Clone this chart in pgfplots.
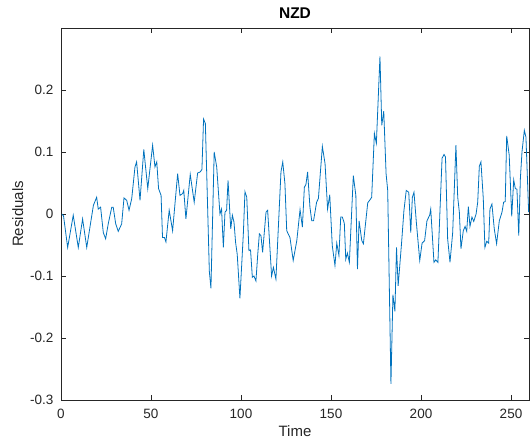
\documentclass[border=0pt]{standalone}
\usepackage{pgfplots}
\pgfplotsset{compat=1.18}
\usepackage{fontspec}
\setmainfont{Liberation Sans}
\definecolor{mblue}{rgb}{0,0.447,0.741}
\definecolor{mgray}{rgb}{0.15,0.15,0.15}
\begin{document}
\begin{tikzpicture}
\begin{axis}[
 scale only axis, width=468pt, height=372pt,
 xmin=0,xmax=260,ymin=-0.3,ymax=0.3,
 xtick={0,50,100,150,200,250}, xticklabels={0,50,100,150,200,250},
 ytick={-0.3,-0.2,-0.1,0,0.1,0.2}, yticklabels={-0.3,-0.2,-0.1,0,0.1,0.2},
 axis line style={mgray, line width=0.7pt},
 major tick style={mgray, line width=0.7pt},
 major tick length=5pt,
 tick pos=both, tick align=inside,
 tick label style={font=\fontsize{13.5}{16}\selectfont, text=mgray},
 xticklabel style={yshift=-6pt},
 yticklabel style={xshift=-4pt},
 xlabel={Time}, ylabel={Residuals},
 label style={font=\fontsize{15}{18}\selectfont, text=mgray},
 title={NZD}, title style={font=\bfseries\fontsize{15.5}{18}\selectfont, text=black},
]
\addplot[mblue, line width=0.8pt] coordinates {
(0.5,0.000) (1.4,-0.003) (3.7,-0.054) (6.8,-0.002) (9.6,-0.054) (12.0,-0.008)
(14.3,-0.054) (18.0,0.014) (19.8,0.027) (20.7,0.008) (22.0,0.011) (23.5,-0.030)
(24.8,-0.040) (26.3,-0.015) (28.2,0.011) (29.0,0.011) (30.4,-0.016) (31.8,-0.028)
(33.7,-0.016) (35.0,0.026) (36.5,0.022) (37.8,0.006) (39.3,0.025) (41.1,0.076)
(42.0,0.084) (43.9,0.022) (46.0,0.104) (48.2,0.041) (50.9,0.111) (52.2,0.076)
(53.2,0.084) (54.2,0.041) (55.6,0.030) (56.4,-0.038) (57.5,-0.038) (58.3,-0.045)
(60.1,0.006) (62.0,-0.027) (64.8,0.065) (66.1,0.030) (67.6,0.033) (68.2,0.038)
(69.4,-0.008) (71.8,0.064) (74.0,0.019) (75.9,0.066) (77.4,0.068) (78.3,0.072)
(79.2,0.153) (80.2,0.146) (81.5,0.006) (82.4,-0.092) (83.3,-0.120) (85.1,0.100)
(86.5,0.076) (88.3,0.000) (89.2,0.008) (90.2,-0.054) (91.1,0.003) (92.0,0.006)
(92.8,0.054) (94.3,-0.024) (95.2,-0.002) (96.1,-0.013) (97.0,-0.046) (97.9,-0.065)
(99.4,-0.136) (101.3,-0.032) (102.2,0.036) (103.2,0.027) (104.4,-0.059) (105.3,-0.058)
(106.3,-0.102) (107.2,-0.100) (108.3,-0.108) (109.3,-0.065) (110.2,-0.032) (111.1,-0.035)
(112.0,-0.062) (113.9,0.003) (114.8,0.006) (117.0,-0.100) (118.0,-0.086) (119.4,-0.105)
(122.2,0.068) (123.2,0.084) (124.4,0.049) (125.4,-0.027) (127.2,-0.038) (129.0,-0.075)
(131.0,-0.043) (132.8,0.007) (134.1,-0.021) (135.2,0.043) (136.1,0.048) (137.0,0.068)
(138.3,0.011) (139.3,-0.011) (140.3,-0.011) (142.0,0.019) (143.0,0.025) (145.2,0.109)
(146.7,0.081) (148.1,0.008) (149.3,0.031) (150.7,-0.051) (152.2,-0.083) (153.2,-0.047)
(154.4,-0.067) (155.4,-0.005) (156.3,-0.005) (157.4,-0.015) (158.2,-0.073) (159.1,-0.063)
(160.2,-0.078) (162.4,0.062) (163.8,0.030) (164.7,-0.089) (165.6,-0.011) (167.1,-0.043)
(168.0,-0.048) (170.4,0.018) (171.7,0.023) (172.6,0.027) (174.1,0.130) (175.2,0.114)
(177.2,0.254) (178.2,0.143) (179.3,0.166) (180.6,0.065) (181.5,0.038) (183.3,-0.274)
(184.4,-0.130) (185.5,-0.157) (186.4,-0.054) (187.3,-0.116) (189.2,-0.047) (190.5,0.005)
(191.8,0.038) (193.2,0.035) (194.3,-0.030) (195.2,0.027) (196.1,0.035) (197.4,-0.013)
(199.3,-0.075) (200.6,-0.047) (202.0,-0.043) (203.3,-0.011) (204.8,-0.002) (205.4,0.008)
(207.2,-0.078) (208.2,-0.074) (209.4,-0.078) (211.7,0.090) (212.8,0.096) (213.6,0.092)
(214.8,-0.040) (216.1,-0.078) (217.6,-0.030) (219.4,0.111) (220.4,0.027) (221.3,0.003)
(222.2,-0.056) (223.5,-0.027) (224.5,-0.020) (225.4,-0.028) (226.3,0.012) (227.2,-0.020)
(228.3,-0.005) (229.3,-0.012) (230.6,0.000) (231.5,0.019) (232.4,0.077) (233.3,0.084)
(234.6,0.025) (235.5,-0.054) (236.5,-0.044) (237.6,-0.047) (238.3,0.008) (239.4,0.016)
(240.7,-0.024) (242.0,-0.048) (243.5,-0.011) (245.0,0.003) (245.9,0.019) (246.8,0.020)
(247.6,0.126) (249.0,0.095) (250.4,-0.004) (251.5,0.055) (252.4,0.041) (253.3,0.040)
(254.3,-0.035) (255.2,0.057) (256.1,0.100) (257.4,0.135) (258.3,0.124) (259.8,0.003)
};
\end{axis}
\path (current axis.south west) ++(-61pt,-48pt);
\path (current axis.north east) ++(2pt,28pt);
\end{tikzpicture}
\end{document}
